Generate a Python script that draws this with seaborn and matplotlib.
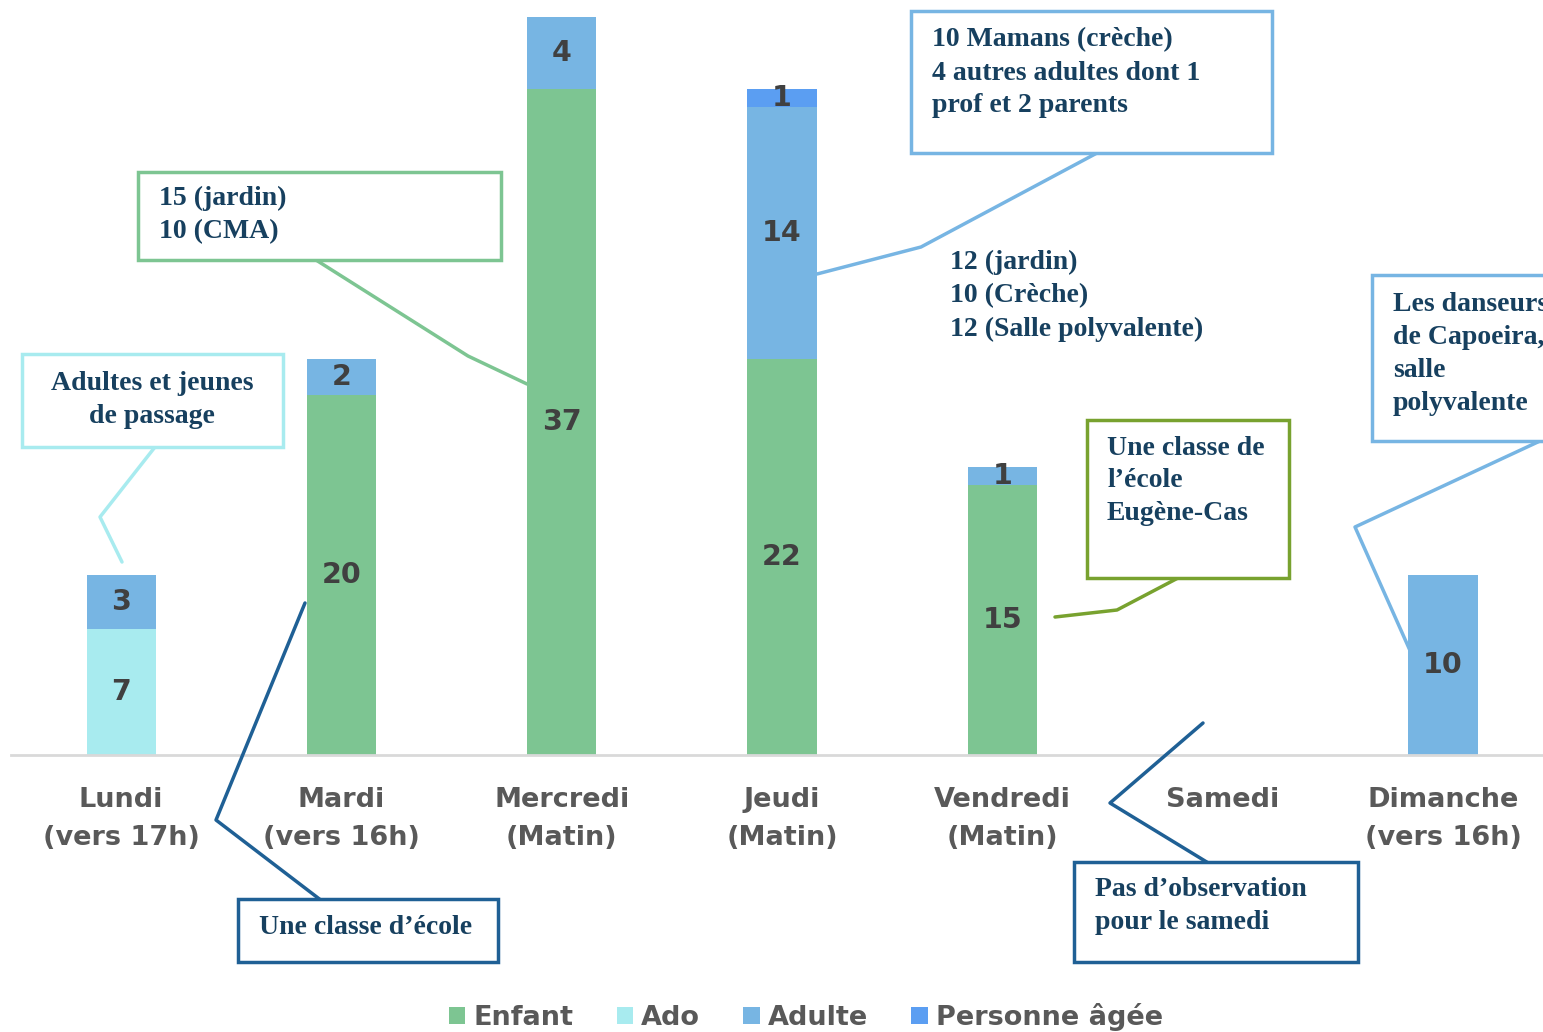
import matplotlib
matplotlib.use("Agg")
import matplotlib.pyplot as plt
import seaborn as sns
import numpy as np
from matplotlib.patches import Rectangle, Patch
from matplotlib.lines import Line2D

days = ["Lundi\n(vers 17h)", "Mardi\n(vers 16h)", "Mercredi\n(Matin)", "Jeudi\n(Matin)",
        "Vendredi\n(Matin)", "Samedi", "Dimanche\n(vers 16h)"]
enfant = [0, 20, 37, 22, 15, 0, 0]
ado = [7, 0, 0, 0, 0, 0, 0]
adulte = [3, 2, 4, 14, 1, 0, 10]
agee = [0, 0, 0, 1, 0, 0, 0]

series = [("Enfant", enfant, "#7DC592"),
          ("Ado", ado, "#A8EBEF"),
          ("Adulte", adulte, "#77B5E3"),
          ("Personne âgée", agee, "#5B9EF2")]

W, H = 1543, 1032
sns.set_theme(style="white")
plt.rcParams["font.family"] = ["DejaVu Sans"]

fig = plt.figure(figsize=(W / 100, H / 100), dpi=100)
scale = 18.0  # px per unit
ymax = 41.5
ax = fig.add_axes([11 / W, (H - 755) / H, 7 * 220.3 / W, ymax * scale / H])

bottom = np.zeros(len(days))
for name, vals, col in series:
    vals = np.array(vals, dtype=float)
    sns.barplot(x=days, y=vals, bottom=bottom, color=col, width=0.314,
                errorbar=None, linewidth=0, edgecolor="none", ax=ax, saturation=1)
    for i, v in enumerate(vals):
        if v > 0:
            ax.text(i, bottom[i] + v / 2, f"{int(v)}", ha="center", va="center",
                    fontsize=20.5, fontweight="bold", color="#404040")
    bottom += vals

ax.set_ylim(0, ymax)
ax.set_xlim(-0.5, len(days) - 0.5)
ax.set_yticks([])
for s in ["top", "right", "left"]:
    ax.spines[s].set_visible(False)
ax.spines["bottom"].set_color("#D9D9D9")
ax.spines["bottom"].set_linewidth(2)
ax.tick_params(axis="x", length=0, pad=23)
for lab in ax.get_xticklabels():
    lab.set_fontsize(19.5)
    lab.set_fontweight("bold")
    lab.set_color("#595959")
    lab.set_linespacing(1.62)
ax.set_xlabel("")
ax.set_ylabel("")


def P(x, y):
    return (x / W, 1 - y / H)


navy = "#17405F"
callouts = [
    # box (x0, y0, x1, y1), edge color, text, text anchor, ha, leader points
    ((22, 354, 283, 447), "#A8EBEF", "Adultes et jeunes\nde passage", (152, 400), "center",
     [(155, 447), (100, 517), (122, 562)]),
    ((238, 899, 498, 962), "#1F6095", "Une classe d\u2019école", (259, 928), "left",
     [(305, 603), (216, 820), (322, 901)]),
    ((138, 172, 501, 260), "#7DC592", "15 (jardin)\n10 (CMA)", (159, 215), "left",
     [(316, 260), (468, 356), (527, 384)]),
    ((911, 11, 1272, 153), "#77B5E3", "10 Mamans (crèche)\n4 autres adultes dont 1\nprof et 2 parents",
     (932, 73), "left", [(1097, 153), (921, 247), (817, 274)]),
    ((1087, 420, 1289, 578), "#78A22F", "Une classe de\nl\u2019école\nEugène-Cas", (1107, 481), "left",
     [(1178, 578), (1117, 610), (1055, 617)]),
    ((1074, 862, 1358, 962), "#1F6095", "Pas d\u2019observation\npour le samedi", (1095, 906), "left",
     [(1203, 723), (1110, 803), (1210, 864)]),
    ((1372, 275, 1575, 441), "#77B5E3", "Les danseurs\nde Capoeira,\nsalle\npolyvalente", (1393, 354),
     "left", [(1540, 441), (1355, 527), (1412, 655)]),
]

for (x0, y0, x1, y1), ec, txt, (tx, ty), ha, pts in callouts:
    fig.patches.append(Rectangle(P(x0, y1), (x1 - x0) / W, (y1 - y0) / H, transform=fig.transFigure,
                                 facecolor="white", edgecolor=ec, linewidth=2.5, zorder=3))
    xs = [P(*p)[0] for p in pts]
    ys = [P(*p)[1] for p in pts]
    fig.lines.append(Line2D(xs, ys, transform=fig.transFigure, color=ec, linewidth=2.5, zorder=2))
    fig.text(*P(tx, ty), txt, ha=ha, va="center", multialignment=ha, fontsize=20,
             fontweight="bold", family="Liberation Serif", color=navy, linespacing=1.42, zorder=4)

fig.text(*P(950, 296), "12 (jardin)\n10 (Crèche)\n12 (Salle polyvalente)", ha="left", va="center",
         fontsize=20, fontweight="bold", family="Liberation Serif", color=navy, linespacing=1.42)

handles = [Patch(facecolor=c, edgecolor="none") for _, _, c in series]
labels = [n for n, _, _ in series]
fig.legend(handles, labels, loc="center", bbox_to_anchor=P(806, 1017), ncol=4, frameon=False,
           prop={"size": 19.5, "weight": "bold"}, labelcolor="#595959", handlelength=0.6,
           handleheight=0.6, handletextpad=0.3, columnspacing=1.6)

fig.savefig("out.png", dpi=100)
